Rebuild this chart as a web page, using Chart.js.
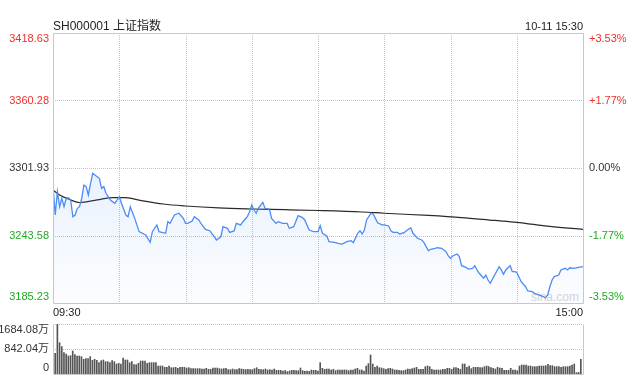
<!DOCTYPE html>
<html>
<head>
<meta charset="utf-8">
<script src="https://cdn.jsdelivr.net/npm/chart.js@4.4.1/dist/chart.umd.min.js"></script>
<style>
body { margin: 0; background: #fff; }
#box { position: relative; width: 641px; height: 380px; font-family: "Liberation Sans", "Noto Sans CJK SC", sans-serif; color: #222; }
canvas { position: absolute; left: 0; }
.txt { position: absolute; white-space: nowrap; }
#title { left: 53px; top: 19px; font-size: 12px; line-height: 14px; }
#stamp { right: 58px; top: 20px; font-size: 11px; line-height: 13px; }
#tOpen { left: 53px; top: 306px; font-size: 11px; line-height: 13px; }
#tClose { right: 58px; top: 306px; font-size: 11px; line-height: 13px; }
#wm { left: 531px; top: 290px; font-size: 12px; line-height: 14px; color: #d6d6d6; }
</style>
</head>
<body>
<div id="box">
  <div class="txt" id="wm">sina.com</div>
  <canvas id="priceChart" width="641" height="310" style="top:0;width:641px;height:310px"></canvas>
  <canvas id="volChart" width="641" height="70" style="top:310px;width:641px;height:70px"></canvas>
  <div class="txt" id="title">SH000001 上证指数</div>
  <div class="txt" id="stamp">10-11 15:30</div>
  <div class="txt" id="tOpen">09:30</div>
  <div class="txt" id="tClose">15:00</div>
</div>
<script>
// datos (minuto desde la apertura, 0..240)
const prevClose = 3301.93;
const priceTicks = [3185.23, 3243.58, 3301.93, 3360.28, 3418.63];
const pctLabels = ['-3.53%', '-1.77%', '0.00%', '+1.77%', '+3.53%'];
const timeTicks = [0, 30, 60, 90, 120, 150, 180, 210, 240];
const volTicks = [0, 842.04, 1684.08];
const volLabels = ['0', '842.04万', '1684.08万'];

const priceMinutes = [
  0, 1, 2, 3, 4, 5, 6, 7, 8, 9,
  10, 11, 12, 13, 14, 15, 16, 17, 18, 20,
  21, 22, 23, 24, 26, 28, 30, 31, 33, 34,
  35, 37, 39, 42, 44, 45, 47, 48, 51, 52,
  53, 55, 57, 59, 60, 61, 63, 64, 66, 67,
  69, 71, 73, 74, 76, 77, 79, 80, 82, 83,
  85, 86, 88, 89, 90, 91, 92, 93, 95, 96,
  98, 99, 101, 102, 104, 106, 107, 109, 111, 113,
  114, 116, 118, 120, 121, 122, 124, 125, 128, 129,
  131, 133, 135, 136, 138, 139, 140, 141, 142, 144,
  145, 146, 147, 149, 150, 152, 153, 154, 156, 157,
  159, 160, 162, 163, 165, 167, 168, 170, 171, 173,
  174, 176, 178, 179, 180, 181, 183, 184, 185, 187,
  188, 190, 191, 192, 193, 195, 196, 197, 198, 200,
  202, 203, 204, 205, 207, 208, 209, 210, 212, 214,
  215, 217, 218, 220, 222, 223, 224, 225, 226, 227,
  229, 230, 232, 233, 234, 236, 238, 240
];
const prices = [
  3287.2, 3261.3, 3281.4, 3268.5, 3275.7, 3268.5, 3275.7, 3276.3, 3274.3, 3259.8,
  3261.3, 3267.1, 3268.5, 3275.7, 3287.2, 3285.8, 3278.6, 3288.7, 3297.3, 3294.4,
  3293.0, 3284.4, 3285.8, 3280.1, 3274.3, 3271.4, 3277.1, 3271.4, 3261.3, 3259.8,
  3268.5, 3258.4, 3246.9, 3244.0, 3237.7, 3246.9, 3252.7, 3246.9, 3245.5, 3255.5,
  3254.1, 3261.3, 3262.8, 3258.4, 3254.1, 3254.1, 3256.1, 3259.8, 3257.0, 3254.1,
  3248.9, 3247.7, 3242.5, 3239.7, 3242.5, 3251.2, 3249.8, 3246.3, 3247.5, 3254.1,
  3252.7, 3255.5, 3259.8, 3264.2, 3269.9, 3265.6, 3262.8, 3267.1, 3272.3, 3267.1,
  3266.5, 3258.4, 3254.1, 3255.5, 3254.1, 3254.1, 3249.8, 3251.2, 3260.7, 3259.0,
  3257.0, 3248.3, 3246.9, 3246.9, 3252.1, 3245.5, 3243.2, 3238.2, 3237.4, 3236.8,
  3236.2, 3238.2, 3239.1, 3237.4, 3245.5, 3247.7, 3244.9, 3248.3, 3257.0, 3262.8,
  3262.2, 3258.4, 3254.6, 3252.7, 3252.7, 3251.8, 3247.7, 3246.3, 3246.3, 3244.9,
  3246.0, 3247.7, 3250.3, 3245.5, 3241.2, 3239.7, 3237.4, 3230.4, 3231.7, 3232.5,
  3233.0, 3232.5, 3229.6, 3225.9, 3223.9, 3225.9, 3227.6, 3225.3, 3217.5, 3216.1,
  3214.6, 3215.2, 3217.5, 3213.8, 3210.9, 3206.6, 3209.4, 3205.1, 3202.3, 3209.4,
  3216.6, 3213.8, 3210.0, 3213.8, 3217.5, 3212.3, 3212.3, 3211.8, 3203.6, 3199.3,
  3195.6, 3195.0, 3193.6, 3192.2, 3190.7, 3189.8, 3192.2, 3199.3, 3205.1, 3208.0,
  3209.4, 3213.8, 3215.2, 3213.8, 3215.7, 3215.2, 3216.1, 3216.6
];

// precio medio (línea negra)
const avgMinutes = [0, 3, 7, 12, 20, 27, 33, 40, 50, 60, 75, 90, 105, 120, 140, 150, 170, 185, 200, 210, 225, 240];
const avgPrices = [3282.9, 3278.6, 3275.1, 3272.1, 3274.3, 3276.4, 3276.3, 3273.8, 3270.8, 3269.1, 3267.4,
  3266.5, 3265.9, 3265.2, 3263.9, 3262.8, 3260.9, 3259.1, 3256.6, 3255.0, 3251.4, 3248.9];

// volumen por minuto, en 万
const volumes = [
  696, 1684.08, 1055, 921, 719, 674, 606, 617, 775, 651,
  606, 606, 584, 494, 516, 516, 584, 460, 494, 460,
  382, 449, 472, 415, 415, 382, 449, 415, 337, 359,
  337, 539, 472, 472, 382, 415, 314, 314, 359, 438,
  438, 438, 359, 382, 382, 382, 382, 269, 269, 269,
  225, 225, 269, 213, 213, 225, 191, 225, 225, 225,
  202, 213, 180, 180, 180, 180, 180, 168, 168, 191,
  157, 157, 202, 202, 202, 180, 168, 180, 191, 146,
  146, 168, 146, 146, 180, 168, 157, 146, 157, 146,
  146, 180, 213, 157, 146, 146, 168, 135, 146, 135,
  168, 123, 123, 123, 101, 112, 79, 101, 123, 123,
  112, 112, 202, 112, 90, 101, 90, 135, 123, 123,
  101, 382, 191, 157, 168, 168, 135, 157, 112, 135,
  135, 135, 135, 135, 112, 135, 135, 168, 191, 135,
  135, 101, 269, 348, 640, 337, 225, 269, 213, 202,
  180, 157, 180, 191, 168, 135, 135, 123, 112, 112,
  135, 168, 157, 180, 202, 225, 157, 157, 157, 247,
  269, 247, 157, 135, 135, 135, 135, 157, 157, 191,
  191, 157, 213, 213, 191, 157, 337, 337, 225, 269,
  180, 225, 225, 225, 213, 213, 247, 269, 247, 213,
  191, 168, 225, 202, 191, 123, 123, 123, 191, 135,
  135, 112, 269, 303, 303, 303, 269, 269, 247, 247,
  247, 269, 269, 269, 281, 326, 281, 281, 247, 247,
  247, 225, 247, 247, 247, 269, 303, 337, 45, 56,
  494
];
const volMinutes = volumes.map((v, i) => i);

const FONT = '11px "Liberation Sans", "Noto Sans CJK SC", sans-serif';
const RED = '#f0302a';
const GREEN = '#22a822';

function colorFor(v) {
  if (Math.abs(v - prevClose) < 0.005) return '#333';
  return v > prevClose ? RED : GREEN;
}

// rejilla punteada y marco del panel
const panelGrid = {
  id: 'panelGrid',
  beforeDatasetsDraw(chart, args, o) {
    const { ctx, chartArea: a, scales } = chart;
    ctx.save();
    ctx.strokeStyle = '#c4c4c4';
    ctx.lineWidth = 1;
    ctx.setLineDash([1, 1]);
    o.yTicks.forEach(v => {
      const y = Math.round(scales.y.getPixelForValue(v)) + 0.5;
      ctx.beginPath(); ctx.moveTo(a.left, y); ctx.lineTo(a.right, y); ctx.stroke();
    });
    o.xTicks.forEach(v => {
      const x = Math.round(scales.x.getPixelForValue(v)) + 0.5;
      ctx.beginPath(); ctx.moveTo(x, a.top); ctx.lineTo(x, a.bottom); ctx.stroke();
    });
    ctx.restore();
  },
  afterDraw(chart, args, o) {
    const { ctx, chartArea: a } = chart;
    const l = Math.round(a.left) + 0.5, r = Math.round(a.right) + 0.5;
    const t = Math.round(a.top) + 0.5, b = Math.round(a.bottom) + 0.5;
    ctx.save();
    ctx.strokeStyle = '#c8c8c8';
    ctx.lineWidth = 1;
    ctx.beginPath();
    if (o.topSolid) { ctx.moveTo(l, t); ctx.lineTo(r, t); }
    ctx.moveTo(l, t); ctx.lineTo(l, b); ctx.lineTo(r, b); ctx.lineTo(r, t);
    ctx.stroke();
    ctx.restore();
  }
};

// etiquetas de los ejes (la primera y la última se meten dentro del panel)
const sideLabels = {
  id: 'sideLabels',
  afterDraw(chart, args, o) {
    const { ctx, chartArea: a, scales } = chart;
    ctx.save();
    ctx.font = FONT;
    ctx.textBaseline = 'middle';
    const n = o.ticks.length;
    o.ticks.forEach((v, i) => {
      let y = scales.y.getPixelForValue(v);
      if (i === 0) y -= o.shift; else if (i === n - 1) y += o.shift;
      ctx.fillStyle = o.colors ? o.colors(v) : '#333';
      ctx.textAlign = 'right';
      ctx.fillText(o.left[i], a.left - 4, y);
      if (o.right) {
        ctx.textAlign = 'left';
        ctx.fillText(o.right[i], a.right + 6, y);
      }
    });
    ctx.restore();
  }
};

const priceCtx = document.getElementById('priceChart').getContext('2d');
new Chart(priceCtx, {
  type: 'line',
  data: {
    datasets: [{
      data: priceMinutes.map((m, i) => ({ x: m, y: prices[i] })),
      borderColor: '#4b8cf5',
      borderWidth: 1.3,
      pointRadius: 0,
      tension: 0,
      fill: 'start',
      backgroundColor: (c) => {
        const area = c.chart.chartArea;
        if (!area) return 'rgba(75,140,245,0.08)';
        const g = c.chart.ctx.createLinearGradient(0, area.top, 0, area.bottom);
        g.addColorStop(0, 'rgba(75,140,245,0.26)');
        g.addColorStop(0.5, 'rgba(75,140,245,0.12)');
        g.addColorStop(1, 'rgba(75,140,245,0.02)');
        return g;
      }
    }, {
      data: avgMinutes.map((m, i) => ({ x: m, y: avgPrices[i] })),
      borderColor: '#2a2a2a',
      borderWidth: 1.2,
      pointRadius: 0,
      cubicInterpolationMode: 'monotone',
      fill: false
    }]
  },
  options: {
    responsive: false,
    animation: false,
    devicePixelRatio: 1,
    layout: { padding: { left: 53, top: 33, right: 58, bottom: 7 } },
    scales: {
      x: { type: 'linear', display: false, min: 0, max: 240 },
      y: { display: false, min: priceTicks[0], max: priceTicks[priceTicks.length - 1] }
    },
    plugins: {
      legend: { display: false },
      tooltip: { enabled: false },
      panelGrid: { yTicks: priceTicks.slice(1, -1), xTicks: timeTicks.slice(1, -1), topSolid: true },
      sideLabels: { ticks: priceTicks, left: priceTicks.map(v => v.toFixed(2)), right: pctLabels, colors: colorFor, shift: 6 }
    }
  },
  plugins: [panelGrid, sideLabels]
});

const volCtx = document.getElementById('volChart').getContext('2d');
new Chart(volCtx, {
  type: 'bar',
  data: {
    datasets: [{
      data: volMinutes.map((m, i) => ({ x: m, y: volumes[i] })),
      backgroundColor: '#555',
      barThickness: 1,
      borderWidth: 0
    }]
  },
  options: {
    responsive: false,
    animation: false,
    devicePixelRatio: 1,
    layout: { padding: { left: 53, top: 14, right: 58, bottom: 6 } },
    scales: {
      x: { type: 'linear', display: false, offset: false, min: -1, max: 241, grid: { offset: false } },
      y: { display: false, min: 0, max: volTicks[2] }
    },
    plugins: {
      legend: { display: false },
      tooltip: { enabled: false },
      panelGrid: { yTicks: volTicks.slice(1), xTicks: [], topSolid: false },
      sideLabels: { ticks: volTicks, left: volLabels, shift: 6 }
    }
  },
  plugins: [panelGrid, sideLabels]
});
</script>
</body>
</html>
